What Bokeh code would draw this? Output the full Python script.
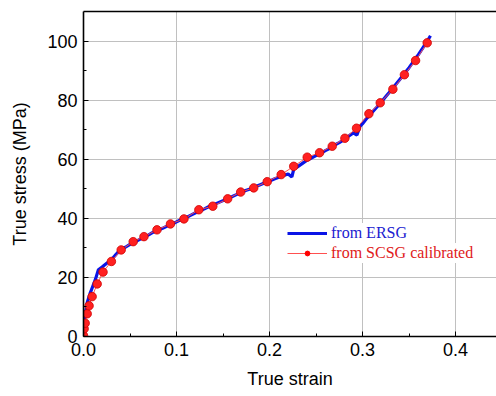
from bokeh.plotting import figure
from bokeh.models import (Range1d, FixedTicker, PrintfTickFormatter, LinearAxis,
                          Legend, LegendItem)
from bokeh.embed import file_html
from bokeh.resources import INLINE

# ERSG measurement (blue line)
ersg_strain = [0.0, 0.002, 0.004, 0.007, 0.010, 0.013, 0.016, 0.020, 0.025, 0.030,
               0.035, 0.040, 0.045, 0.050, 0.055, 0.060, 0.065, 0.070, 0.075, 0.080,
               0.085, 0.090, 0.095, 0.100, 0.105, 0.110, 0.115, 0.120, 0.125, 0.130,
               0.135, 0.140, 0.145, 0.150, 0.155, 0.160, 0.165, 0.170, 0.175, 0.180,
               0.185, 0.190, 0.195, 0.200, 0.205, 0.210, 0.215, 0.220, 0.224, 0.226,
               0.230, 0.235, 0.240, 0.245, 0.250, 0.255, 0.260, 0.265, 0.270, 0.275,
               0.280, 0.285, 0.290, 0.294, 0.297, 0.300, 0.305, 0.310, 0.315, 0.320,
               0.325, 0.330, 0.335, 0.340, 0.345, 0.350, 0.355, 0.360, 0.365, 0.370,
               0.373]
ersg_stress = [4.0, 8.0, 11.5, 14.5, 17.0, 19.5, 22.6, 23.5, 24.8, 26.0,
               27.8, 29.5, 30.2, 31.2, 32.0, 32.8, 33.6, 34.4, 35.3, 36.0,
               36.6, 37.4, 38.0, 38.8, 39.6, 40.2, 41.0, 41.8, 42.5, 43.2,
               44.0, 44.6, 45.3, 46.0, 46.8, 47.4, 48.1, 48.9, 49.5, 50.0,
               50.8, 51.4, 52.0, 52.6, 53.3, 53.9, 54.5, 55.0, 54.0, 56.6,
               57.4, 58.5, 59.6, 60.4, 61.2, 62.0, 62.9, 63.7, 64.8, 65.6,
               66.6, 67.8, 68.9, 68.2, 71.0, 72.0, 74.0, 75.8, 77.5, 79.3,
               81.2, 83.1, 85.0, 87.0, 89.0, 91.0, 93.2, 95.4, 97.8, 100.2,
               101.8]

# SCSG calibrated (red dots)
scsg_strain = [0.0, 0.0007, 0.0018, 0.004, 0.006, 0.0093, 0.0147, 0.021, 0.030, 0.0405,
               0.0534, 0.065, 0.079, 0.0935, 0.108, 0.124, 0.139, 0.155, 0.169, 0.183,
               0.1975, 0.2125, 0.226, 0.2405, 0.2538, 0.2674, 0.281, 0.2935, 0.3068, 0.319,
               0.3326, 0.345, 0.357, 0.3695]
scsg_stress = [0.3, 2.6, 4.5, 7.7, 10.4, 13.5, 17.8, 21.8, 25.4, 29.3,
               32.1, 33.8, 36.1, 38.1, 39.8, 42.9, 44.1, 46.6, 48.9, 50.3,
               52.4, 54.8, 57.6, 60.7, 62.2, 64.4, 67.1, 70.5, 75.4, 79.1,
               83.7, 88.6, 93.4, 99.4]

x_ticks = [0.0, 0.1, 0.2, 0.3, 0.4]
x_minor = [0.05, 0.15, 0.25, 0.35]
y_ticks = [0, 20, 40, 60, 80, 100]
y_minor = [10, 30, 50, 70, 90]

FONT = "Liberation Sans"

p = figure(width=496, height=396, output_backend="svg", toolbar_location=None,
           x_range=Range1d(0, 0.444), y_range=Range1d(0, 110),
           min_border_left=83, min_border_right=0, min_border_top=11,
           min_border_bottom=60)
p.outline_line_color = None
p.background_fill_color = "white"
p.border_fill_color = "white"

for ax, ticks, minor in ((p.xaxis[0], x_ticks, x_minor), (p.yaxis[0], y_ticks, y_minor)):
    ax.ticker = FixedTicker(ticks=ticks, minor_ticks=minor)
    ax.axis_line_width = 1.6
    ax.axis_line_color = "black"
    ax.major_tick_in = 5
    ax.major_tick_out = 0
    ax.minor_tick_in = 3
    ax.minor_tick_out = 0
    ax.major_tick_line_color = "black"
    ax.minor_tick_line_color = "black"
    ax.major_label_text_font = FONT
    ax.major_label_text_font_size = "18px"
    ax.major_label_text_color = "black"
    ax.axis_label_text_font = FONT
    ax.axis_label_text_font_size = "18px"
    ax.axis_label_text_font_style = "normal"
    ax.axis_label_text_color = "black"
    ax.major_label_standoff = 6

p.xaxis[0].formatter = PrintfTickFormatter(format="%.1f")
p.xaxis[0].axis_label = "True strain"
p.xaxis[0].axis_label_standoff = 10
p.yaxis[0].axis_label = "True stress (MPa)"
p.yaxis[0].axis_label_standoff = 14

top = LinearAxis(major_tick_in=0, major_tick_out=0, minor_tick_in=0, minor_tick_out=0,
                 major_label_text_font_size="0px", axis_line_width=1.6,
                 axis_line_color="black", ticker=FixedTicker(ticks=[]))
p.add_layout(top, "above")

p.xgrid.ticker = FixedTicker(ticks=x_ticks)
p.ygrid.ticker = FixedTicker(ticks=y_ticks)
p.grid.grid_line_color = "#c0c0c0"
p.grid.grid_line_width = 1

blue = p.line(ersg_strain, ersg_stress, line_color="#0a14e6", line_width=3.2)
red_line = p.line(scsg_strain, scsg_stress, line_color="#ff5050", line_width=1)
red_small = p.scatter(scsg_strain, scsg_stress, size=6, fill_color="#ff0000",
                      line_color="#ff0000")
red_dots = p.scatter(scsg_strain, scsg_stress, size=8.5, fill_color="#ff2020",
                     line_color="#d00000", line_width=0.8)

common = dict(border_line_color=None, background_fill_color="white",
              background_fill_alpha=1.0, padding=0, margin=0, spacing=0,
              glyph_width=40, glyph_height=12, label_height=20, label_standoff=4,
              label_text_font="Liberation Serif", label_text_font_size="16px")

leg1 = Legend(items=[LegendItem(label="from ERSG", renderers=[blue])],
              location=(204, 93), label_text_color="#2020d0", **common)
leg2 = Legend(items=[LegendItem(label="from SCSG calibrated",
                                renderers=[red_line, red_small])],
              location=(204, 73), label_text_color="#e02020", **common)
p.add_layout(leg1, "center")
p.add_layout(leg2, "center")

open("out.html", "w").write(file_html(p, INLINE))
